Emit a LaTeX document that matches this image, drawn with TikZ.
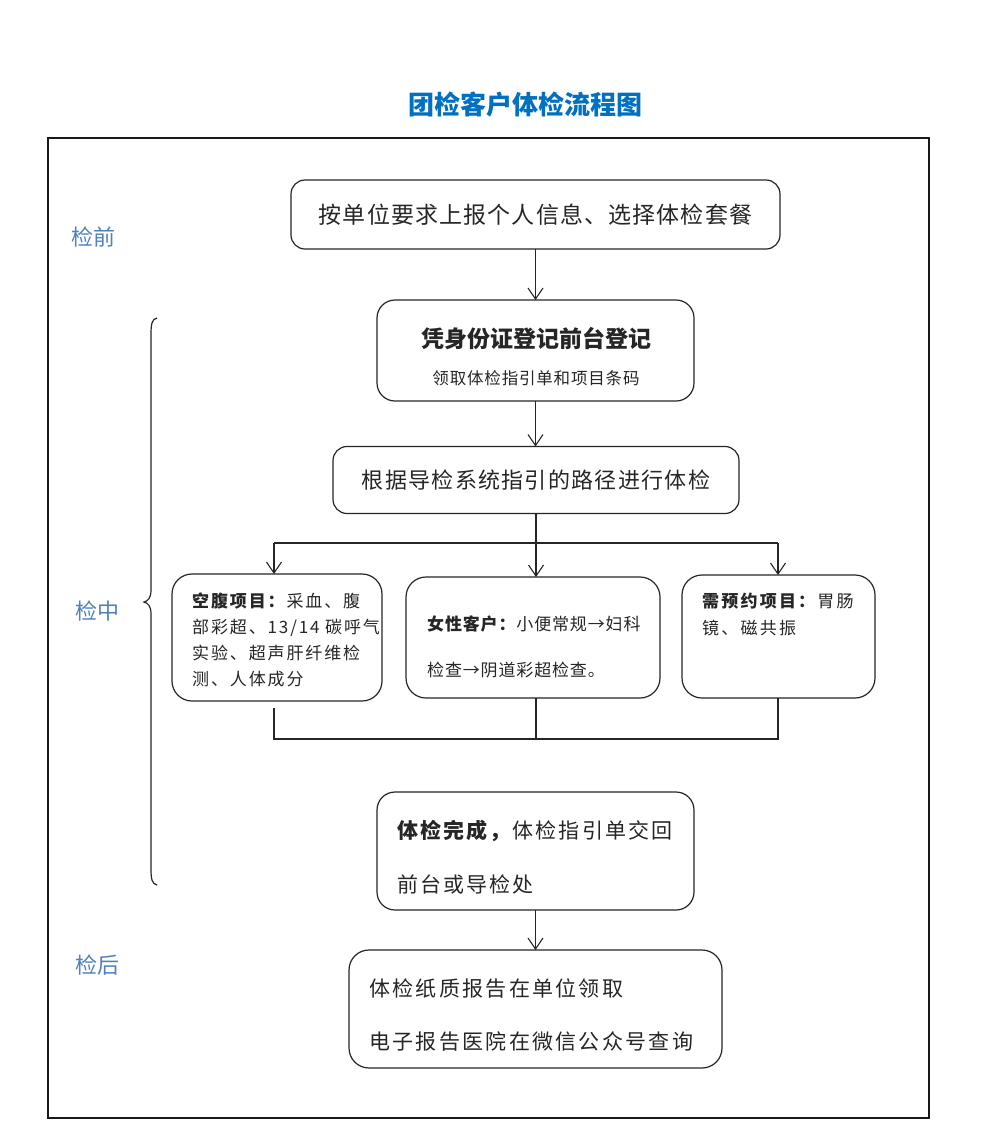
\documentclass[tikz,border=0pt]{standalone}
\usepackage{fontspec}
\setmainfont{Noto Sans CJK SC}
\usetikzlibrary{arrows.meta}
\definecolor{titleblue}{RGB}{0,112,192}
\definecolor{sideblue}{RGB}{79,129,189}
\newcommand\fsz[3]{\fontsize{#1}{#2}\selectfont\addfontfeatures{LetterSpace=#3}}
\begin{document}
\begin{tikzpicture}[x=1pt,y=-1pt,
  box/.style={draw=black!85, line width=1.2pt, rounded corners=14pt, inner sep=0pt, outer sep=0pt},
  sbox/.style={box, rounded corners=20pt},
  arr/.style={draw=black!85, line width=1.1pt, -{Straight Barb[length=11pt,width=15pt,line width=1.1pt]}},
  conn/.style={draw=black!85, line width=1.1pt},
  txt/.style={inner sep=0pt, text=black!85, align=left},
  side/.style={text=sideblue, font=\fsz{22}{26}{0}, inner sep=0pt}
]
\useasboundingbox (0,0) rectangle (1000,1138);
\fill[white] (0,0) rectangle (1000,1138);

% title
\node[inner sep=0pt, text=titleblue, font=\bfseries\fontsize{26}{30}\selectfont] (title) at (525,105) {团检客户体检流程图};

% frame
\draw[line width=1.5pt, draw=black!90] (48,138) rectangle (929,1118);

% side labels
\node[side] (sa) at (93,237) {检前};
\node[side] (sb) at (97,611) {检中};
\node[side] (sc) at (97,965) {检后};

% brace
\draw[line width=1.2pt, draw=black!85] (157,318) .. controls (152,319) and (151,324) .. (151,334) -- (151,590)
  .. controls (151,598) and (148,601) .. (144,602) .. controls (148,603) and (151,606) .. (151,614)
  -- (151,869) .. controls (151,879) and (152,884) .. (157,885);

% boxes
\node[box, minimum width=489, minimum height=69, text=black!85, font=\fsz{23}{27}{5}] (b1) at (535.5,214.5) {按单位要求上报个人信息、选择体检套餐};
\node[box, rounded corners=18pt, minimum width=317, minimum height=101] (b2) at (535.5,350.5) {};
\node[txt, font=\bfseries\fsz{23}{27}{0}] (t2a) at (536,339) {凭身份证登记前台登记};
\node[txt, font=\fsz{16.5}{20}{5}] (t2b) at (536,378) {领取体检指引单和项目条码};
\node[box, minimum width=406, minimum height=67, text=black!85, font=\fsz{22}{26}{6}] (b3) at (536,480) {根据导检系统指引的路径进行体检};

\node[sbox, minimum width=210, minimum height=127] (b4) at (277,637.5) {};
\node[txt, anchor=west, font=\fsz{17}{26}{11}] (t4) at (192,640) {\textbf{空腹项目：}采血、腹\\部彩超、13/14 碳呼气\\实验、超声肝纤维检\\测、人体成分};

\node[sbox, minimum width=254, minimum height=121] (b5) at (533,637.5) {};
\node[txt, anchor=west, font=\fsz{17}{46}{5}] (t5) at (427,647) {\textbf{女性客户：}小便常规→妇科\\检查→阴道彩超检查。};

\node[sbox, minimum width=193, minimum height=123] (b6) at (778.5,636.5) {};
\node[txt, anchor=west, font=\fsz{17}{27}{13}] (t6) at (702,614.5) {\textbf{需预约项目：}胃肠\\镜、磁共振};

\node[box, rounded corners=18pt, minimum width=317, minimum height=118] (b7) at (535.5,851) {};
\node[txt, anchor=west, font=\fsz{21}{54}{10}] (t7) at (397,857) {\textbf{体检完成，}体检指引单交回\\前台或导检处};

\node[sbox, minimum width=373, minimum height=118] (b8) at (535.5,1009) {};
\node[txt, anchor=west, font=\fsz{21}{53}{11}] (t8) at (369,1015.5) {体检纸质报告在单位领取\\电子报告医院在微信公众号查询};

% junction coordinates
\coordinate (jl) at (274,543);
\coordinate (jm) at (536,543);
\coordinate (jr) at (778,543);
\coordinate (kl) at (274,739);
\coordinate (km) at (536,739);
\coordinate (kr) at (778,739);

% connectors
\draw[arr] (b1.south) -- (b2.north);
\draw[arr] (b2.south) -- (b2.south |- b3.north);
\draw[conn] (b3.south) -- (jm);
\draw[conn] (jl) -- (jr);
\draw[arr] (jl) -- (jl |- b4.north);
\draw[arr] (jm) -- (jm |- b5.north);
\draw[arr] (jr) -- (jr |- b6.north);
\draw[conn] ([yshift=-7pt]b4.south -| kl) -- (kl) -- (kr) -- (b6.south -| kr);
\draw[conn] (b5.south -| km) -- (km);
\draw[arr] (b7.south) -- (b8.north);
\end{tikzpicture}
\end{document}
